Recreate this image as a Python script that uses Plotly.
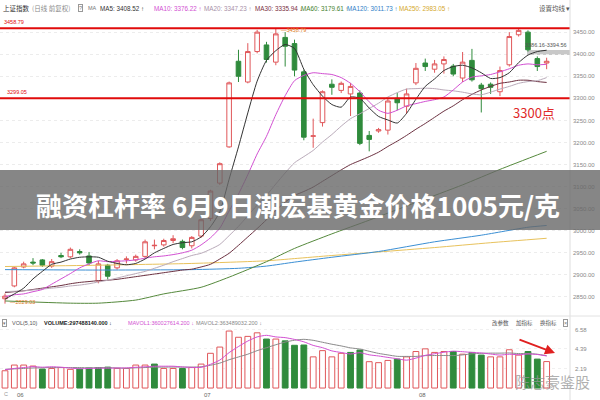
import plotly.graph_objects as go

# ---------------- data ----------------
dates = ["05-29",
 "06-01","06-02","06-03","06-04","06-05","06-08","06-09","06-10","06-11","06-12",
 "06-15","06-16","06-17","06-18","06-19","06-22","06-23","06-24","06-29","06-30",
 "07-01","07-02","07-03","07-06","07-07","07-08","07-09","07-10","07-13","07-14",
 "07-15","07-16","07-17","07-20","07-21","07-22","07-23","07-24","07-27","07-28",
 "07-29","07-30","07-31",
 "08-03","08-04","08-05","08-06","08-07","08-10","08-11","08-12","08-13","08-14",
 "08-17","08-18","08-19","08-20","08-21"]

opens = [2846,2875,2918,2929,2934,2920,2944,2941,2953,2943,
         2886,2922,2916,2935,2934,2942,2966,2968,2978,2976,
         2966,2988,3028,3108,3190,3384,3337,3406,3421,3382,
         3438,3424,3360,3214,3245,3332,3318,3310,3312,3216,
         3226,3228,3300,3282,3335,3380,3366,3378,3373,3346,
         3386,3330,3332,3315,3376,3444,3450,3390,3380]
highs = [2858,2918,2930,2938,2936,2936,2950,2962,2958,2952,
         2932,2925,2936,2942,2946,2980,2980,2982,2990,2980,
         2988,3028,3093,3155,3338,3410,3425,3455,3428,3458.79,
         3450,3433,3365,3254,3318,3343,3338,3335,3318,3226,
         3233,3300,3312,3322,3380,3390,3387,3395,3378,3405,
         3412,3335,3336,3372,3450,3458,3454,3395,3392]
lows = [2835,2872,2915,2922,2918,2916,2938,2938,2946,2922,
        2881,2890,2912,2926,2930,2938,2958,2964,2972,2958,
        2960,2984,3022,3104,3188,3337,3334,3402,3381,3375,
        3372,3350,3205,3188,3236,3308,3312,3260,3194,3180,
        3222,3218,3273,3265,3330,3362,3358,3356,3350,3337,
        3338,3268,3310,3305,3372,3440,3406,3362,3366]
closes = [2852,2916,2925,2927,2922,2930,2941,2958,2950,2927,
          2925,2897,2932,2936,2942,2975,2967,2978,2982,2962,
          2985,3025,3090,3152,3335,3350,3406,3450,3388,3446,
          3418,3364,3212,3215,3315,3325,3334,3327,3198,3207,
          3229,3294,3290,3310,3368,3372,3378,3388,3355,3382,
          3342,3322,3325,3363,3440,3454,3410,3372,3384]

ma5 = [2845,2857,2870,2891,2908,2924,2929,2936,2940,2941,
       2940,2931,2926,2923,2926,2936,2950,2960,2969,2973,
       2975,2986,3009,3043,3117,3190,3267,3339,3386,3408,
       3422,3413,3366,3331,3305,3286,3280,3303,3300,3278,
       3259,3251,3244,3266,3298,3327,3344,3363,3372,3375,
       3369,3358,3345,3347,3358,3381,3398,3406,3409]
ma10 = [2851,2855,2857,2862,2867,2879,2891,2903,2916,2925,
        2932,2930,2931,2932,2934,2938,2941,2943,2946,2950,
        2956,2968,2984,3006,3045,3083,3127,3174,3214,3263,
        3306,3340,3352,3358,3356,3354,3347,3334,3315,3292,
        3273,3266,3273,3283,3288,3293,3297,3303,3319,3337,
        3348,3351,3354,3360,3367,3375,3378,3376,3377]
ma20 = [2862,2863,2864,2866,2868,2870,2872,2875,2877,2880,
        2884,2888,2893,2898,2903,2908,2915,2922,2930,2937,
        2944,2949,2958,2969,2989,3010,3034,3058,3080,3106,
        3131,3154,3168,3182,3201,3218,3237,3254,3265,3277,
        3289,3303,3313,3321,3322,3323,3322,3319,3317,3314,
        3310,3308,3314,3321,3327,3334,3338,3340,3347]
ma30 = [2860,2862,2864,2867,2870,2873,2876,2880,2883,2885,
        2887,2888,2890,2893,2896,2899,2902,2905,2908,2911,
        2913,2918,2924,2936,2949,2967,2986,3005,3025,3046,
        3065,3080,3089,3099,3112,3125,3138,3150,3159,3168,
        3178,3191,3203,3216,3230,3243,3257,3271,3283,3297,
        3309,3319,3327,3334,3337,3341,3341,3338,3336]
ma60_idx = [0, 7, 10, 14, 17, 21, 24, 28, 31, 35, 39, 44, 49, 53, 58]
ma60 = [2841, 2836, 2836, 2843, 2857, 2872, 2895, 2930, 2960, 2993, 3024, 3064, 3104, 3139, 3180]
ma120_idx = [0, 10, 20, 25, 28, 31, 35, 40, 46, 51, 56, 58]
ma120 = [2912, 2911, 2912, 2915, 2920, 2929, 2940, 2953, 2975, 2990, 3008, 3012]
ma250_idx = [0, 10, 20, 28, 31, 35, 40, 46, 52, 58]
ma250 = [2919, 2922, 2926, 2932, 2937, 2944, 2952, 2962, 2973, 2983]

volumes = [1.94,2.58,2.58,2.47,2.13,2.20,2.30,2.10,2.13,2.25,
           2.30,2.35,2.20,2.20,2.58,2.58,2.69,2.20,2.20,2.20,
           2.30,2.69,3.90,4.60,6.40,5.70,5.80,6.20,5.50,5.50,
           5.30,4.80,4.83,3.50,4.20,3.50,3.90,4.00,4.27,2.96,
           2.85,3.10,3.25,3.50,4.10,4.40,4.00,4.10,4.10,3.80,
           4.00,3.70,3.50,3.50,4.30,3.70,4.10,3.25,2.97]
mavol1 = [2.05,2.20,2.30,2.40,2.34,2.39,2.34,2.24,2.17,2.20,
          2.22,2.23,2.25,2.26,2.33,2.38,2.45,2.45,2.45,2.37,
          2.32,2.32,2.66,3.14,3.98,4.66,5.28,5.74,5.92,5.74,
          5.66,5.46,5.19,4.79,4.53,4.17,3.99,3.82,3.97,3.73,
          3.60,3.44,3.29,3.13,3.36,3.67,3.85,4.02,4.14,4.08,
          4.00,3.94,3.82,3.70,3.80,3.74,3.82,3.77,3.60]
mavol2 = [2.10,2.15,2.20,2.25,2.28,2.30,2.30,2.30,2.30,2.27,
          2.30,2.29,2.25,2.22,2.27,2.30,2.34,2.35,2.36,2.35,
          2.35,2.39,2.56,2.80,3.18,3.49,3.80,4.20,4.53,4.86,
          5.16,5.37,5.47,5.36,5.14,4.92,4.73,4.51,4.38,4.13,
          3.89,3.72,3.56,3.55,3.55,3.64,3.65,3.66,3.64,3.72,
          3.84,3.90,3.92,3.92,3.94,3.87,3.88,3.80,3.63]

price_ticks = [2850, 2900, 2950, 3000, 3050, 3100, 3150, 3200, 3250, 3300, 3350, 3400, 3450]
vol_ticks = [2.19, 4.39, 6.58]
month_labels = [("06-01", "06"), ("07-01", "07"), ("08-03", "08")]
hline_levels = [3458.79, 3300]
title_text = "融资杠杆率 6月9日潮宏基黄金价格1005元/克"

# ---------------- styling ----------------
RED = "#e0575a"
GREEN = "#2f8b3c"
CJK = "Noto Sans CJK SC"
NUM = "Liberation Sans"
W, H = 600, 400

def px(x):
    return x / W

def py(y):
    return 1 - y / H

fig = go.Figure()

fig.add_trace(go.Candlestick(
    x=dates, open=opens, high=highs, low=lows, close=closes,
    xaxis="x", yaxis="y", whiskerwidth=0,
    increasing=dict(line=dict(color=RED, width=1), fillcolor="white"),
    decreasing=dict(line=dict(color=GREEN, width=1), fillcolor=GREEN),
    showlegend=False, hoverinfo="skip"))

def ma_line(xs, ys, color, width=1.0):
    fig.add_trace(go.Scatter(x=xs, y=ys, mode="lines", xaxis="x", yaxis="y",
                             line=dict(color=color, width=width, shape="spline", smoothing=0.6),
                             showlegend=False, hoverinfo="skip"))

ma_line([dates[i] for i in ma250_idx], ma250, "#e8c25c")
ma_line([dates[i] for i in ma120_idx], ma120, "#3b8fd4")
ma_line([dates[i] for i in ma60_idx], ma60, "#55893c")
ma_line(dates, ma30, "#6b3040")
ma_line(dates, ma20, "#b9aab9")
ma_line(dates, ma10, "#d24fd2")
ma_line(dates, ma5, "#333333")

# volume bars: colour by close vs previous close
vol_fill, vol_line = [], []
for i, c in enumerate(closes):
    down = i > 0 and c < closes[i - 1]
    vol_fill.append(GREEN if down else "white")
    vol_line.append(GREEN if down else RED)
fig.add_trace(go.Bar(x=dates, y=volumes, xaxis="x2", yaxis="y2", width=0.62,
                     marker=dict(color=vol_fill, line=dict(color=vol_line, width=1)),
                     showlegend=False, hoverinfo="skip"))
fig.add_trace(go.Scatter(x=dates, y=mavol2, mode="lines", xaxis="x2", yaxis="y2",
                         line=dict(color="#8a8a8a", width=1, shape="spline", smoothing=0.6),
                         showlegend=False, hoverinfo="skip"))
fig.add_trace(go.Scatter(x=dates, y=mavol1, mode="lines", xaxis="x2", yaxis="y2",
                         line=dict(color="#d24fd2", width=1, shape="spline", smoothing=0.6),
                         showlegend=False, hoverinfo="skip"))

xr = [-0.535, 60.5]
fig.update_layout(
    width=W, height=H, autosize=False,
    margin=dict(l=0, r=0, t=0, b=0),
    paper_bgcolor="white", plot_bgcolor="white",
    hovermode=False,
    xaxis=dict(domain=[0, 0.95], range=xr, type="category", anchor="y",
               showticklabels=False, showgrid=False, zeroline=False,
               rangeslider=dict(visible=False), fixedrange=True),
    yaxis=dict(domain=[0.22, 0.955], range=[2816, 3482], side="right", anchor="x",
               tickvals=price_ticks, ticktext=[f"{v:.2f}" for v in price_ticks],
               tickfont=dict(family=NUM, size=6, color="#888888"),
               showgrid=True, gridcolor="#ececec", griddash="dot", gridwidth=1,
               zeroline=False, ticks="", ticklabelstandoff=2),
    xaxis2=dict(domain=[0, 0.95], range=xr, type="category", anchor="y2", matches="x",
                showticklabels=False, showgrid=False, zeroline=False),
    yaxis2=dict(domain=[0.025, 0.2], range=[-0.22, 7.64], side="right", anchor="x2",
                tickvals=vol_ticks, ticktext=[f"{v:.2f}" for v in vol_ticks],
                tickfont=dict(family=NUM, size=6, color="#888888"),
                showgrid=True, gridcolor="#f0f0f0", griddash="dot",
                zeroline=False, ticks="", ticklabelstandoff=4),
)

shapes = []
for lv in hline_levels:
    shapes.append(dict(type="line", xref="paper", yref="y", x0=0, x1=0.95, y0=lv, y1=lv,
                       line=dict(color="#e10b0b", width=2), layer="above"))
# separators
shapes.append(dict(type="line", xref="paper", yref="paper", x0=0.95, x1=0.95, y0=0, y1=1,
                   line=dict(color="#dddddd", width=1)))
shapes.append(dict(type="line", xref="paper", yref="paper", x0=0, x1=1, y0=py(316), y1=py(316),
                   line=dict(color="#e2e2e2", width=1)))
# grey bar under the range label
shapes.append(dict(type="rect", xref="paper", yref="paper", x0=px(527), x1=px(570),
                   y0=py(55), y1=py(50), fillcolor="#c8c8c8", line=dict(width=0), layer="below"))
# banner
shapes.append(dict(type="rect", xref="paper", yref="paper", x0=0, x1=1, y0=py(230), y1=py(170),
                   fillcolor="rgba(104,104,104,0.80)", line=dict(width=0), layer="above"))
fig.update_layout(shapes=shapes)

ann = []

def txt(x, y, s, size=6, color="#333333", family=CJK, xanchor="left", **kw):
    ann.append(dict(x=px(x), y=py(y), xref="paper", yref="paper", text=s, showarrow=False,
                    xanchor=xanchor, yanchor="middle", font=dict(family=family, size=size, color=color), **kw))

# header row
txt(1, 8, "上证指数", size=6.5, color="#333333")
txt(30, 8, "(日线 前复权)", size=6.5, color="#8a8a8a")
txt(78, 8, "?", size=5.5, color="#777777", family=NUM, bordercolor="#999999", borderwidth=1, borderpad=0)
txt(86, 8, "MA", size=5.5, color="#777777", family=NUM)
txt(98, 8, "MA5: 3408.52 ↑", size=6.3, family=NUM, color="#333333")
txt(152, 8, "MA10: 3376.22 ↑", size=6.3, family=NUM, color="#d24fd2")
txt(202, 8, "MA20: 3347.23 ↑", size=6.3, family=NUM, color="#a890a8")
txt(253, 8, "MA30: 3335.94 ↓", size=6.3, family=NUM, color="#7a2f42")
txt(299, 8, "MA60: 3179.61 ↑", size=6.3, family=NUM, color="#3f7f2c")
txt(345, 8, "MA120: 3011.73 ↑", size=6.3, family=NUM, color="#2f7fc8")
txt(397, 8, "MA250: 2983.05 ↑", size=6.3, family=NUM, color="#d4a82c")
txt(537, 8, "设置均线 ▾", size=6.5, color="#555555")

# price pane labels
txt(2, 22, "3458.79", size=5.5, color="#e10b0b", family=NUM)
txt(5, 92, "3299.05", size=5.5, color="#e10b0b", family=NUM)
txt(279, 30, "—3458.79", size=5.5, color="#e07a20", family=NUM)
txt(8, 302, "—2829.03", size=5.5, color="#e07a20", family=NUM)
txt(523, 45, "3386.16-3394.56", size=5.5, color="#555555", family=NUM)
txt(534, 112, "3300点", size=13, color="#e02a2a", xanchor="center")

# banner title
ann.append(dict(x=px(298), y=py(204), xref="paper", yref="paper", text="<b>" + title_text + "</b>",
                showarrow=False, xanchor="center", yanchor="middle",
                font=dict(family=CJK, size=26, color="white")))

# volume header
txt(2, 323, "▾", size=5, color="#777777", family=NUM, bordercolor="#999999", borderwidth=1, borderpad=0)
txt(10, 323, "VOL(5,10)", color="#555555", family=NUM, size=5.5)
txt(42, 323, "<b>VOLUME:297488140.000</b> ↓", color="#222222", family=NUM, size=5.5)
txt(126, 323, "MAVOL1:360027614.200 ↓", color="#d24fd2", family=NUM, size=5.5)
txt(194, 323, "MAVOL2:363489032.200 ↓", color="#888888", family=NUM, size=5.5)
txt(490, 323, "改参数", size=5.5, color="#555555")
txt(514, 323, "加指标", size=5.5, color="#555555")
txt(538, 323, "换指标", size=5.5, color="#555555")
txt(563, 323, "×", size=5.5, color="#777777", family=NUM, bordercolor="#999999", borderwidth=1, borderpad=0)

# month labels
for d, lab in month_labels:
    ann.append(dict(x=d, y=0, xref="x2", yref="paper", text=lab, showarrow=False,
                    xanchor="left", yanchor="bottom", xshift=1, yshift=0,
                    font=dict(family=NUM, size=6, color="#666666")))
txt(2, 394, "C", color="#999999", family=NUM, size=5.5)

# red arrow
ann.append(dict(x=px(555), y=py(353), xref="paper", yref="paper", text="", showarrow=True,
                ax=-37, ay=-14, arrowhead=2, arrowsize=1, arrowwidth=2, arrowcolor="#e02020"))

# watermark
txt(552, 381, "陈志豪鉴股", size=15, color="rgba(150,150,150,0.75)", xanchor="center")

fig.update_layout(annotations=ann)

fig.write_html("out.html",
               config={"displayModeBar": False, "staticPlot": True},
               post_script="document.body.style.margin='0';document.body.style.overflow='hidden';")
